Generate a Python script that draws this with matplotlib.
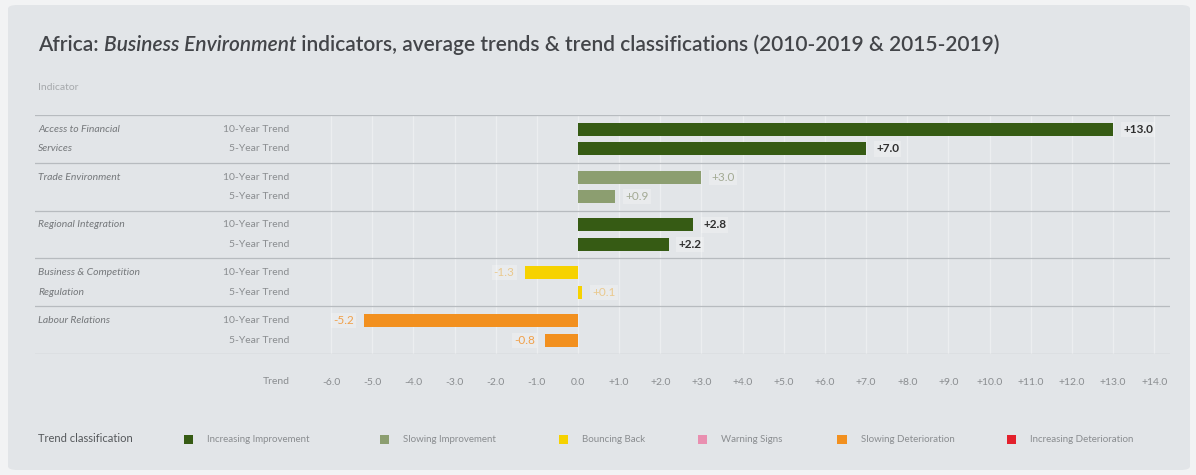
import matplotlib
matplotlib.use('Agg')
import matplotlib.pyplot as plt
from matplotlib.patches import FancyBboxPatch, Rectangle

plt.rcParams['font.family'] = ['Lato', 'DejaVu Sans']

# Indicator data (average annual trend, score points)
indicators = ['Access to Financial\nServices', 'Trade Environment', 'Regional Integration',
              'Business & Competition\nRegulation', 'Labour Relations']
trend_10 = [13.0, 3.0, 2.8, -1.3, -5.2]
trend_5 = [7.0, 0.9, 2.2, 0.1, -0.8]
class_10 = ['Increasing Improvement', 'Slowing Improvement', 'Increasing Improvement',
            'Bouncing Back', 'Slowing Deterioration']
class_5 = ['Increasing Improvement', 'Slowing Improvement', 'Increasing Improvement',
           'Bouncing Back', 'Slowing Deterioration']
row_labels = ['10-Year Trend', '5-Year Trend']
x_ticks = list(range(-6, 15))

classes = ['Increasing Improvement', 'Slowing Improvement', 'Bouncing Back',
           'Warning Signs', 'Slowing Deterioration', 'Increasing Deterioration']
bar_colors = {
    'Increasing Improvement': '#365b14',
    'Slowing Improvement': '#8c9e70',
    'Bouncing Back': '#f6d200',
    'Warning Signs': '#e98fb0',
    'Slowing Deterioration': '#f2901f',
    'Increasing Deterioration': '#e3202c',
}
label_styles = {
    'Increasing Improvement': ('#2f2f2f', 'bold'),
    'Slowing Improvement': ('#a3aa94', 'normal'),
    'Bouncing Back': ('#e9c98e', 'normal'),
    'Warning Signs': ('#e98fb0', 'normal'),
    'Slowing Deterioration': ('#f0a04a', 'normal'),
    'Increasing Deterioration': ('#e3202c', 'normal'),
}

W, H = 1196, 475
fig = plt.figure(figsize=(W / 100, H / 100), dpi=100)
fig.patch.set_facecolor('#f2f3f4')


def fx(px):
    return px / W


def fy(py):
    return 1 - py / H


# background card
card = FancyBboxPatch((fx(8), fy(470)), fx(1182), 465 / H,
                      boxstyle='round,pad=0,rounding_size=0.008',
                      transform=fig.transFigure, facecolor='#e2e5e8',
                      edgecolor='none', zorder=-5)
fig.patches.append(card)

# plot area: 0 sits at 578px, 13 at 1113px
ax_l, ax_r, ax_t, ax_b = 35, 1170, 115, 354
ax = fig.add_axes([fx(ax_l), fy(ax_b), fx(ax_r - ax_l), (ax_b - ax_t) / H])
ax.set_zorder(2)
ax.set_facecolor('none')
unit = (1113 - 578) / 13
ax.set_xlim((ax_l - 578) / unit, (ax_r - 578) / unit)
ax.set_ylim(5, 0)
for s in ax.spines.values():
    s.set_visible(False)

off10, off5, bh = 0.30, 0.71, 0.27

# vertical grid lines
for t in x_ticks:
    ax.plot([t, t], [0, 5], color='#eceef0', lw=1.0, zorder=1)

# group separators
for g in range(6):
    ax.axhline(g, color='#b7bbbf', lw=0.9, zorder=2)

for g, name in enumerate(indicators):
    for off, val, cls in ((off10, trend_10[g], class_10[g]), (off5, trend_5[g], class_5[g])):
        y = g + off
        ax.barh(y, val, height=bh, color=bar_colors[cls], zorder=3)
        col, wt = label_styles[cls]
        pad = 10 / unit
        if val >= 0:
            ax.text(val + pad, y, f'+{val:.1f}', ha='left', va='center', fontsize=8.5,
                    color=col, fontweight=wt, zorder=4,
                    bbox=dict(facecolor='white', alpha=0.25, edgecolor='none', pad=1.5))
        else:
            ax.text(val - pad, y, f'{val:.1f}', ha='right', va='center', fontsize=8.5,
                    color=col, fontweight=wt, zorder=4,
                    bbox=dict(facecolor='white', alpha=0.25, edgecolor='none', pad=1.5))
    # indicator name, one line per bar row
    for k, line in enumerate(name.split('\n')):
        ax.text((38 - ax_l) / (ax_r - ax_l), g + (off10, off5)[k], line,
                transform=ax.get_yaxis_transform(), ha='left', va='center',
                fontsize=7.5, style='italic', color='#75787b')
    for k, lab in enumerate(row_labels):
        ax.text((289 - ax_l) / (ax_r - ax_l), g + (off10, off5)[k], lab,
                transform=ax.get_yaxis_transform(), ha='right', va='center',
                fontsize=7.5, color='#8a8d90')

ax.set_xticks(x_ticks)
ax.set_xticklabels([f'{t:.1f}' if t <= 0 else f'+{t:.1f}' for t in x_ticks])
ax.tick_params(axis='x', length=0, pad=17, labelsize=7.5, labelcolor='#8a8d90')
ax.tick_params(axis='y', left=False, labelleft=False)
fig.text(fx(290), fy(381), 'Trend', ha='right', va='center', fontsize=7.5, color='#8a8d90')

# title, with the italic part drawn as its own piece
renderer = fig.canvas.get_renderer()
x = fx(38)
for piece, st in (('Africa: ', 'normal'), ('Business Environment', 'italic'),
                  (' indicators, average trends & trend classifications (2010-2019 & 2015-2019)', 'normal')):
    t = fig.text(x, fy(45), piece, ha='left', va='center', fontsize=15, style=st,
                 fontweight='semibold', color='#434549')
    bb = t.get_window_extent(renderer)
    x += bb.width / W

fig.text(fx(38), fy(88), 'Indicator', ha='left', va='center', fontsize=7.5, color='#a6a9ac')

# legend
fig.text(fx(38), fy(439), 'Trend classification', ha='left', va='center', fontsize=8, color='#55585b')
sq_x = [188, 384, 563, 702, 842, 1011]
for cx, cls in zip(sq_x, classes):
    fig.patches.append(Rectangle((fx(cx - 4.5), fy(439 + 4.5)), fx(9), 9 / H,
                                 transform=fig.transFigure, facecolor=bar_colors[cls],
                                 edgecolor='none'))
    fig.text(fx(cx + 19), fy(439), cls, ha='left', va='center', fontsize=7, color='#8a8d90')

fig.savefig('out.png', dpi=100, facecolor=fig.get_facecolor())
